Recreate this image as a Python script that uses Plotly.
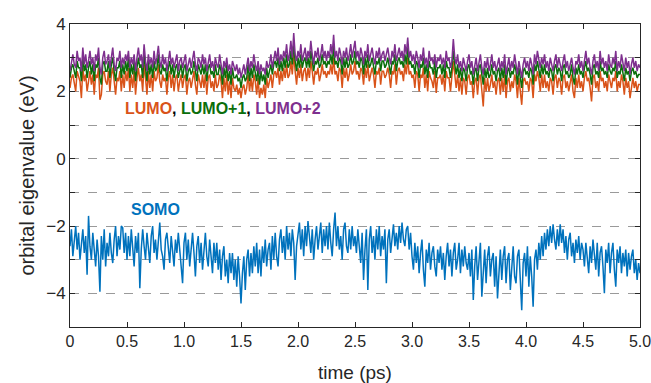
import plotly.graph_objects as go

dt = 0.0125
n_pts = 401
time_ps = [round(i * dt, 5) for i in range(n_pts)]

somo = [
    -2.6, -2.1, -2.9, -2.3, -2.0, -2.7, -2.2, -3.0, -2.4, -2.1, -2.8, -2.3, -3.45, -1.7, -2.6, -3.0, -2.2, -2.7, -3.2, -2.4,
    -2.9, -3.95, -2.3, -3.0, -2.1, -3.2, -2.5, -2.9, -2.2, -2.8, -3.1, -2.4, -2.0, -2.9, -2.3, -2.7, -2.0, -2.05, -2.8, -2.2,
    -3.0, -2.3, -2.9, -2.1, -2.7, -3.2, -2.3, -2.8, -2.2, -3.85, -2.7, -2.1, -2.6, -3.0, -2.2, -2.7, -3.1, -2.3, -2.0, -2.8,
    -2.4, -3.0, -2.3, -1.9, -2.7, -2.9, -3.3, -2.4, -2.2, -2.8, -3.1, -2.3, -2.9, -3.2, -2.4, -2.8, -2.2, -2.7, -3.1, -3.7,
    -2.5, -2.2, -3.0, -2.4, -3.2, -2.6, -2.2, -2.8, -3.5, -2.6, -2.3, -3.1, -2.5, -3.3, -2.6, -2.2, -2.9, -3.2, -2.4, -3.0,
    -3.4, -2.5, -3.1, -2.5, -3.3, -2.7, -3.6, -2.9, -2.6, -3.5, -3.0, -3.7, -2.8, -3.4, -2.8, -3.6, -3.0, -3.8, -2.9, -3.5,
    -4.3, -3.4, -2.9, -3.9, -3.0, -2.7, -3.5, -2.8, -3.4, -2.6, -3.2, -2.5, -3.4, -2.7, -3.5, -2.6, -3.1, -2.4, -3.2, -2.7,
    -2.5, -3.3, -2.3, -3.0, -2.2, -2.9, -3.2, -2.4, -2.1, -2.8, -2.3, -3.0, -2.0, -2.7, -2.2, -2.9, -2.1, -2.5, -3.6, -2.6,
    -2.2, -1.9, -2.7, -2.1, -2.9, -2.0, -2.6, -1.85, -2.3, -2.8, -2.1, -3.0, -2.4, -2.0, -2.7, -2.2, -1.9, -2.8, -2.1, -2.6,
    -2.0, -2.7, -1.9, -2.5, -2.9, -2.1, -1.6, -2.6, -2.0, -2.7, -2.3, -3.0, -2.1, -1.9, -2.6, -2.8, -2.1, -2.7, -2.0, -2.6,
    -2.3, -2.8, -2.1, -2.6, -3.1, -2.2, -3.6, -2.7, -2.1, -3.9, -2.4, -2.0, -2.8, -2.3, -3.0, -2.1, -2.7, -2.0, -2.9, -2.3,
    -2.7, -2.1, -3.7, -2.4, -2.1, -2.8, -2.3, -1.95, -2.6, -2.2, -2.7, -2.0, -2.5, -1.9, -2.4, -2.6, -2.1, -2.0, -2.7, -2.2,
    -2.9, -3.3, -2.5, -3.1, -2.6, -3.4, -2.8, -2.4, -3.3, -3.8, -2.7, -3.1, -2.5, -3.3, -2.8, -2.6, -3.2, -3.5, -2.7, -3.1,
    -2.6, -3.3, -2.8, -3.6, -2.9, -2.5, -3.2, -2.7, -3.5, -2.8, -2.5, -3.3, -3.0, -2.5, -3.4, -2.7, -3.2, -2.6, -3.1, -3.3,
    -2.8, -3.5, -2.7, -4.2, -3.2, -2.6, -3.6, -2.9, -2.5, -4.1, -3.3, -2.7, -3.7, -2.9, -2.6, -3.5, -3.0, -2.8, -3.8, -2.9,
    -4.15, -3.3, -2.7, -3.6, -2.9, -2.6, -3.7, -3.0, -2.8, -3.9, -3.1, -2.6, -3.5, -3.7, -2.9, -2.7, -3.6, -4.5, -3.1, -2.8,
    -3.5, -2.6, -3.8, -2.9, -3.5, -4.4, -3.0, -2.7, -3.3, -2.5, -3.0, -2.3, -2.9, -2.2, -2.7, -2.1, -2.6, -2.0, -2.5, -1.95,
    -2.4, -2.7, -2.1, -2.6, -1.95, -2.5, -2.1, -2.8, -2.3, -3.0, -2.4, -2.2, -2.9, -2.5, -3.1, -2.4, -2.8, -2.3, -3.0, -2.5,
    -2.7, -3.2, -2.5, -3.0, -3.4, -2.6, -3.1, -2.4, -2.9, -3.3, -2.5, -3.5, -2.8, -2.6, -3.2, -4.0, -2.7, -3.1, -2.5, -3.4,
    -2.8, -2.5, -3.3, -3.8, -2.7, -3.1, -2.6, -3.4, -2.8, -3.2, -2.7, -3.5, -2.8, -3.3, -2.9, -2.7, -3.4, -3.0, -3.6, -3.1,
    -3.4,
]

lumo = [
    2.1, 2.4, 2.5, 2.3, 2.0, 2.6, 2.4, 2.3, 1.8, 2.7, 2.3, 2.5, 2.0, 2.4, 2.6, 2.2, 2.5, 1.9, 2.5, 2.4,
    2.7, 1.75, 1.9, 2.5, 2.6, 2.3, 2.2, 2.6, 2.0, 2.5, 2.7, 2.3, 1.9, 2.4, 2.3, 2.6, 2.0, 2.5, 2.1, 2.6,
    2.3, 2.7, 2.0, 2.5, 2.1, 2.6, 1.9, 2.4, 2.7, 2.3, 2.5, 2.0, 2.8, 2.4, 1.9, 2.6, 2.1, 2.5, 2.0, 2.6,
    2.3, 2.4, 2.8, 2.3, 2.1, 2.5, 2.3, 2.4, 1.9, 2.4, 2.6, 2.1, 2.5, 2.0, 2.4, 2.5, 2.0, 2.3, 2.5, 2.1,
    2.4, 2.5, 1.9, 2.3, 2.4, 2.1, 2.3, 2.6, 2.2, 1.9, 2.5, 2.3, 2.1, 2.5, 2.1, 2.5, 1.9, 2.4, 2.5, 2.1,
    2.3, 2.0, 2.5, 2.1, 2.2, 2.5, 2.3, 1.8, 2.4, 2.0, 2.5, 1.9, 2.3, 1.8, 2.4, 2.1, 2.0, 2.2, 1.9, 2.1,
    1.8, 2.1, 2.2, 1.9, 2.1, 2.5, 2.0, 2.4, 2.0, 2.5, 2.3, 1.9, 2.4, 1.8, 2.1, 1.9, 2.2, 1.8, 2.4, 2.1,
    2.3, 2.5, 2.1, 2.5, 2.6, 2.4, 2.7, 2.2, 2.6, 2.3, 2.7, 2.4, 2.8, 2.4, 2.5, 2.9, 2.5, 3.1, 2.6, 2.2,
    2.7, 2.4, 2.8, 2.3, 2.6, 2.7, 2.3, 2.7, 2.4, 2.9, 2.6, 2.2, 2.6, 2.5, 2.7, 2.3, 2.5, 2.8, 2.5, 2.6,
    2.4, 2.6, 2.5, 2.8, 2.5, 3.0, 2.5, 2.6, 2.3, 2.7, 2.6, 2.1, 2.7, 2.4, 2.7, 2.3, 2.5, 2.8, 2.5, 2.6,
    2.9, 2.5, 2.6, 2.35, 2.7, 2.6, 2.2, 2.7, 2.4, 2.8, 2.3, 2.5, 2.7, 2.5, 2.1, 2.6, 2.5, 2.7, 2.2, 2.6,
    2.6, 2.4, 2.5, 2.7, 2.5, 2.1, 2.6, 2.5, 2.8, 2.2, 2.6, 2.7, 2.5, 2.6, 2.3, 2.8, 2.5, 3.0, 2.5, 2.6,
    2.4, 2.5, 2.1, 2.6, 2.5, 2.0, 2.5, 2.4, 2.7, 2.1, 2.5, 2.0, 2.6, 2.4, 2.3, 2.1, 2.6, 1.95, 2.4, 2.4,
    2.5, 2.2, 2.5, 2.0, 2.6, 2.4, 2.4, 2.0, 2.4, 2.9, 2.5, 2.1, 2.5, 2.0, 2.4, 1.9, 2.4, 2.3, 1.9, 2.4,
    2.5, 2.2, 2.3, 1.8, 2.3, 2.4, 1.9, 2.4, 2.5, 2.1, 1.55, 2.4, 2.0, 2.4, 2.0, 2.2, 2.5, 2.1, 2.3, 1.9,
    2.3, 2.4, 1.9, 2.4, 2.0, 2.5, 1.8, 2.3, 2.4, 2.0, 2.3, 2.1, 2.5, 2.3, 1.8, 2.4, 2.0, 1.6, 2.3, 2.4,
    2.2, 2.3, 2.0, 2.4, 2.3, 1.8, 2.5, 2.3, 2.6, 2.4, 2.0, 2.5, 2.1, 2.5, 2.1, 2.3, 2.0, 2.4, 2.3, 1.9,
    2.4, 2.5, 2.1, 2.4, 2.3, 1.9, 2.4, 2.5, 2.1, 2.3, 2.0, 2.2, 2.5, 2.0, 1.8, 2.4, 2.1, 2.5, 2.1, 2.3,
    2.0, 2.4, 2.6, 2.3, 2.4, 2.1, 1.7, 2.4, 2.5, 2.1, 2.3, 2.0, 2.6, 2.3, 2.4, 2.1, 2.3, 2.0, 2.5, 2.3,
    2.1, 2.4, 2.3, 2.6, 2.0, 2.3, 2.1, 2.5, 2.3, 1.9, 2.4, 2.1, 2.3, 1.8, 2.2, 2.4, 2.1, 2.3, 2.0, 2.2,
    2.2,
]

lumo_p1 = [
    2.4, 2.7, 2.8, 2.6, 2.4, 2.9, 2.7, 2.7, 2.3, 3.0, 2.6, 2.8, 2.4, 2.7, 2.9, 2.5, 2.8, 2.3, 2.8, 2.7,
    3.0, 2.4, 2.2, 2.8, 2.9, 2.6, 2.6, 2.9, 2.4, 2.8, 3.0, 2.6, 2.3, 2.7, 2.7, 2.9, 2.4, 2.8, 2.5, 2.9,
    2.6, 3.0, 2.4, 2.8, 2.5, 2.9, 2.3, 2.7, 3.0, 2.7, 2.8, 2.4, 3.1, 2.7, 2.3, 2.9, 2.5, 2.8, 2.4, 2.9,
    2.6, 2.7, 3.1, 2.6, 2.5, 2.8, 2.6, 2.7, 2.3, 2.7, 2.9, 2.5, 2.8, 2.4, 2.7, 2.8, 2.4, 2.6, 2.8, 2.4,
    2.7, 2.8, 2.3, 2.6, 2.7, 2.5, 2.6, 2.9, 2.6, 2.3, 2.8, 2.6, 2.5, 2.8, 2.5, 2.8, 2.3, 2.7, 2.8, 2.5,
    2.6, 2.4, 2.8, 2.5, 2.5, 2.8, 2.6, 2.2, 2.7, 2.4, 2.8, 2.3, 2.6, 2.2, 2.7, 2.4, 2.4, 2.5, 2.3, 2.4,
    2.1, 2.4, 2.5, 2.3, 2.4, 2.8, 2.3, 2.7, 2.4, 2.8, 2.6, 2.3, 2.7, 2.2, 2.6, 2.3, 2.5, 2.2, 2.7, 2.4,
    2.6, 2.8, 2.5, 2.8, 2.9, 2.7, 3.0, 2.6, 2.9, 2.6, 3.0, 2.7, 3.1, 2.7, 2.8, 3.2, 2.8, 3.4, 2.9, 2.6,
    3.0, 2.7, 3.1, 2.7, 2.9, 3.0, 2.7, 3.0, 2.7, 3.2, 2.9, 2.6, 2.9, 2.8, 3.0, 2.7, 2.8, 3.1, 2.8, 2.9,
    2.7, 2.9, 2.8, 3.1, 2.8, 3.35, 2.8, 2.9, 2.7, 3.0, 2.9, 2.5, 3.0, 2.7, 3.0, 2.7, 2.8, 3.1, 2.8, 2.9,
    3.2, 2.8, 2.9, 2.7, 3.0, 2.9, 2.5, 3.0, 2.7, 3.1, 2.7, 2.8, 3.0, 2.8, 2.5, 2.9, 2.8, 3.0, 2.6, 2.9,
    2.9, 2.7, 2.8, 3.0, 2.8, 2.5, 2.9, 2.8, 3.1, 2.6, 2.9, 3.0, 2.8, 2.9, 2.7, 3.1, 2.8, 3.3, 2.8, 2.9,
    2.7, 2.8, 2.5, 2.9, 2.8, 2.4, 2.8, 2.7, 3.0, 2.5, 2.8, 2.4, 2.9, 2.7, 2.7, 2.5, 2.9, 2.4, 2.7, 2.7,
    2.8, 2.5, 2.8, 2.4, 2.9, 2.7, 2.7, 2.4, 2.7, 3.2, 2.8, 2.5, 2.8, 2.4, 2.7, 2.3, 2.7, 2.6, 2.3, 2.7,
    2.8, 2.5, 2.6, 2.2, 2.6, 2.7, 2.3, 2.7, 2.8, 2.5, 2.2, 2.7, 2.4, 2.7, 2.4, 2.5, 2.8, 2.5, 2.6, 2.3,
    2.6, 2.7, 2.3, 2.7, 2.4, 2.8, 2.2, 2.6, 2.7, 2.4, 2.6, 2.5, 2.8, 2.6, 2.2, 2.7, 2.4, 2.1, 2.6, 2.7,
    2.5, 2.6, 2.4, 2.7, 2.6, 2.2, 2.8, 2.6, 2.9, 2.7, 2.4, 2.8, 2.5, 2.8, 2.5, 2.6, 2.4, 2.7, 2.6, 2.3,
    2.7, 2.8, 2.5, 2.7, 2.6, 2.3, 2.7, 2.8, 2.5, 2.6, 2.4, 2.5, 2.8, 2.4, 2.2, 2.7, 2.5, 2.8, 2.5, 2.6,
    2.4, 2.7, 2.9, 2.6, 2.7, 2.5, 2.2, 2.7, 2.8, 2.5, 2.6, 2.4, 2.9, 2.6, 2.7, 2.5, 2.6, 2.4, 2.8, 2.6,
    2.5, 2.7, 2.6, 2.9, 2.4, 2.6, 2.5, 2.8, 2.6, 2.3, 2.7, 2.5, 2.6, 2.3, 2.6, 2.7, 2.5, 2.6, 2.4, 2.5,
    2.5,
]

lumo_p2 = [
    2.6, 2.9, 3.1, 2.8, 2.7, 3.2, 2.9, 3.0, 2.6, 3.3, 2.8, 3.1, 2.7, 2.9, 3.2, 2.8, 3.0, 2.6, 3.1, 2.9,
    3.3, 2.7, 2.5, 3.0, 3.2, 2.8, 2.9, 3.1, 2.7, 3.0, 3.3, 2.8, 2.6, 3.0, 2.9, 3.2, 2.7, 3.0, 2.8, 3.1,
    2.9, 3.2, 2.7, 3.0, 2.8, 3.1, 2.6, 3.0, 3.3, 2.9, 3.1, 2.7, 3.4, 2.9, 2.6, 3.1, 2.8, 3.0, 2.7, 3.2,
    2.8, 3.0, 3.35, 2.9, 2.7, 3.1, 2.8, 3.0, 2.6, 2.9, 3.2, 2.8, 3.0, 2.7, 2.9, 3.1, 2.6, 2.9, 3.0, 2.7,
    2.9, 3.1, 2.6, 2.8, 3.0, 2.7, 2.9, 3.2, 2.8, 2.6, 3.0, 2.9, 2.7, 3.1, 2.8, 3.0, 2.6, 2.9, 3.1, 2.7,
    2.9, 2.6, 3.0, 2.8, 2.7, 3.1, 2.8, 2.5, 2.9, 2.7, 3.0, 2.6, 2.8, 2.5, 2.9, 2.7, 2.6, 2.8, 2.5, 2.7,
    2.4, 2.6, 2.8, 2.5, 2.7, 3.0, 2.6, 2.9, 2.7, 3.1, 2.8, 2.6, 2.9, 2.5, 2.8, 2.6, 2.7, 2.5, 2.9, 2.7,
    2.8, 3.1, 2.7, 3.0, 3.2, 2.9, 3.3, 2.8, 3.1, 2.9, 3.2, 3.0, 3.4, 2.9, 3.1, 3.5, 3.0, 3.73, 3.1, 2.9,
    3.2, 3.0, 3.4, 2.9, 3.1, 3.3, 2.9, 3.2, 3.0, 3.5, 3.1, 2.8, 3.2, 3.0, 3.3, 2.9, 3.1, 3.4, 3.0, 3.2,
    2.9, 3.2, 3.0, 3.4, 3.1, 3.68, 3.0, 3.2, 2.9, 3.3, 3.1, 2.8, 3.2, 3.0, 3.3, 2.9, 3.1, 3.4, 3.0, 3.2,
    3.5, 3.0, 3.2, 2.9, 3.3, 3.1, 2.8, 3.2, 3.0, 3.4, 2.9, 3.1, 3.3, 3.0, 2.8, 3.2, 3.0, 3.3, 2.9, 3.1,
    3.2, 2.9, 3.1, 3.3, 3.0, 2.8, 3.2, 3.0, 3.4, 2.9, 3.1, 3.3, 3.0, 3.2, 2.9, 3.4, 3.1, 3.6, 3.0, 3.2,
    2.9, 3.1, 2.8, 3.2, 3.0, 2.7, 3.1, 2.9, 3.3, 2.8, 3.0, 2.7, 3.2, 2.9, 3.0, 2.8, 3.1, 2.7, 3.0, 2.9,
    3.1, 2.8, 3.0, 2.7, 3.2, 2.9, 3.0, 2.7, 2.9, 3.55, 3.0, 2.8, 3.1, 2.7, 2.9, 2.6, 3.0, 2.8, 2.6, 2.9,
    3.1, 2.7, 2.9, 2.5, 2.8, 3.0, 2.6, 2.9, 3.1, 2.7, 2.5, 2.9, 2.7, 3.0, 2.6, 2.8, 3.1, 2.7, 2.9, 2.6,
    2.8, 3.0, 2.6, 2.9, 2.7, 3.1, 2.5, 2.8, 3.0, 2.6, 2.9, 2.7, 3.1, 2.8, 2.5, 2.9, 2.7, 2.4, 2.8, 3.0,
    2.7, 2.9, 2.6, 3.0, 2.8, 2.5, 3.1, 2.8, 3.2, 2.9, 2.7, 3.0, 2.8, 3.1, 2.7, 2.9, 2.6, 3.0, 2.8, 2.6,
    2.9, 3.1, 2.7, 3.0, 2.8, 2.6, 2.9, 3.1, 2.7, 2.9, 2.6, 2.8, 3.0, 2.7, 2.5, 2.9, 2.8, 3.1, 2.7, 2.9,
    2.6, 2.9, 3.2, 2.8, 3.0, 2.7, 2.5, 2.9, 3.1, 2.7, 2.9, 2.6, 3.2, 2.8, 3.0, 2.7, 2.9, 2.6, 3.1, 2.8,
    2.7, 3.0, 2.8, 3.2, 2.6, 2.9, 2.7, 3.1, 2.8, 2.6, 3.0, 2.7, 2.9, 2.5, 2.8, 3.0, 2.7, 2.9, 2.6, 2.8,
    2.7,
]

x_tickvals = [0, 0.5, 1.0, 1.5, 2.0, 2.5, 3.0, 3.5, 4.0, 4.5, 5.0]
x_ticktext = ["0", "0.5", "1.0", "1.5", "2.0", "2.5", "3.0", "3.5", "4.0", "4.5", "5.0"]
y_tickvals = [-5, -4, -3, -2, -1, 0, 1, 2, 3, 4]
y_ticktext = ["", "\u22124", "", "\u22122", "", "0", "", "2", "", "4"]

C_SOMO = "#0072BD"
C_LUMO = "#D95319"
C_LUMO1 = "#0B6E0B"
C_LUMO2 = "#7E2F8E"
FONT = "Liberation Sans, Arial, Helvetica, sans-serif"
AXIS_C = "#262626"

fig = go.Figure()
fig.add_trace(go.Scatter(x=time_ps, y=somo, mode="lines", line=dict(color=C_SOMO, width=1.5), showlegend=False))
fig.add_trace(go.Scatter(x=time_ps, y=lumo, mode="lines", line=dict(color=C_LUMO, width=1.5), showlegend=False))
fig.add_trace(go.Scatter(x=time_ps, y=lumo_p1, mode="lines", line=dict(color=C_LUMO1, width=1.5), showlegend=False))
fig.add_trace(go.Scatter(x=time_ps, y=lumo_p2, mode="lines", line=dict(color=C_LUMO2, width=1.5), showlegend=False))

fig.add_annotation(
    x=1.34, y=1.5, xref="x", yref="y", showarrow=False,
    text=(f"<b><span style='color:{C_LUMO}'>LUMO</span><span style='color:#000'>, </span>"
          f"<span style='color:{C_LUMO1}'>LUMO+1</span><span style='color:#000'>, </span>"
          f"<span style='color:{C_LUMO2}'>LUMO+2</span></b>"),
    font=dict(family=FONT, size=16),
)
fig.add_annotation(
    x=0.75, y=-1.52, xref="x", yref="y", showarrow=False,
    text="<b>SOMO</b>", font=dict(family=FONT, size=16, color=C_SOMO),
)

fig.update_layout(
    width=651, height=383,
    margin=dict(l=70, r=11, t=24, b=56),
    paper_bgcolor="white", plot_bgcolor="white",
    font=dict(family=FONT, color=AXIS_C),
)
fig.update_xaxes(
    range=[0, 5], tickvals=x_tickvals, ticktext=x_ticktext, automargin=False,
    ticklabeloverflow="allow",
    showline=True, linecolor=AXIS_C, linewidth=1, mirror="ticks",
    ticks="inside", ticklen=5, tickcolor=AXIS_C, showgrid=False, zeroline=False,
    tickfont=dict(size=16, color=AXIS_C),
    title=dict(text="time (ps)", font=dict(size=19, color=AXIS_C), standoff=20),
)
fig.update_yaxes(
    range=[-5, 4], tickvals=y_tickvals, ticktext=y_ticktext, automargin=False,
    ticklabeloverflow="allow",
    showline=True, linecolor=AXIS_C, linewidth=1, mirror="ticks",
    ticks="inside", ticklen=5, tickcolor=AXIS_C,
    showgrid=True, gridcolor="#9a9a9a", griddash="dash", gridwidth=1, zeroline=False,
    tickfont=dict(size=17, color=AXIS_C),
    title=dict(text="orbital eigenvalue (eV)", font=dict(size=20, color=AXIS_C), standoff=6),
)

fig.write_html("out.html")
